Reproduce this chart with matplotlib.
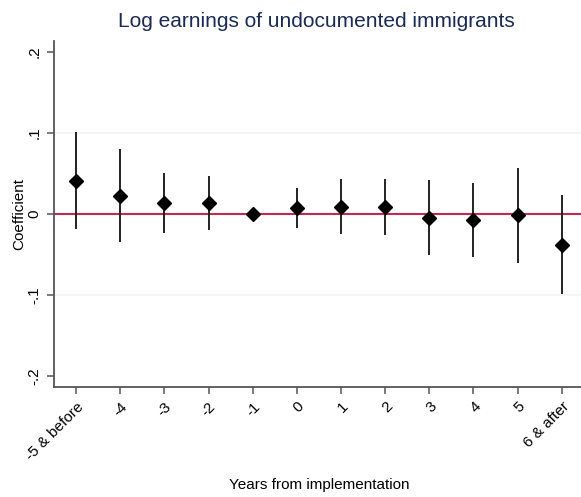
import matplotlib
matplotlib.use("Agg")
import matplotlib.pyplot as plt

plt.rcParams['font.family'] = ['Liberation Sans', 'DejaVu Sans']

# Event-study coefficients with 95% confidence bounds
years = [-5, -4, -3, -2, -1, 0, 1, 2, 3, 4, 5, 6]
tick_labels = ['-5 & before', '-4', '-3', '-2', '-1', '0', '1', '2', '3', '4', '5', '6 & after']
coef = [0.041, 0.0225, 0.0135, 0.0135, 0.0, 0.007, 0.009, 0.0086, -0.0045, -0.0078, -0.0016, -0.038]
ci_low = [-0.018, -0.035, -0.023, -0.020, 0.0, -0.0176, -0.025, -0.026, -0.051, -0.053, -0.060, -0.099]
ci_high = [0.101, 0.080, 0.050, 0.047, 0.0, 0.0316, 0.043, 0.043, 0.042, 0.038, 0.057, 0.023]
yticks = [-0.2, -0.1, 0, 0.1, 0.2]
ytick_labels = ['-.2', '-.1', '0', '.1', '.2']

fig = plt.figure(figsize=(5.81, 4.97), dpi=100)
ax = fig.add_axes([0.0929, 0.2213, 0.912, 0.696])

# light grid at inner ticks
for y in [-0.1, 0.1]:
    ax.axhline(y, color='#edf3f4', lw=1.2, zorder=0)
ax.axhline(0, color='#c5284e', lw=1.5, zorder=1)

ax.vlines(years, ci_low, ci_high, color='#222222', lw=1.4, zorder=2)
ax.plot(years, coef, linestyle='none', marker='D', ms=7.5, color='black', zorder=3)

ax.set_xlim(-5.5, 6.5)
ax.set_ylim(-0.213, 0.213)
ax.set_yticks(yticks)
ax.set_yticklabels(ytick_labels, rotation=90, va='center', fontsize=11)
ax.set_xticks(years)
ax.set_xticklabels(tick_labels, rotation=45, ha='right', rotation_mode='anchor', fontsize=11)

for s in ['top', 'right']:
    ax.spines[s].set_visible(False)
for s in ['left', 'bottom']:
    ax.spines[s].set_color('#555555')
    ax.spines[s].set_linewidth(1.3)
ax.tick_params(axis='both', direction='out', length=5, width=1.1, color='#555555', pad=4)

ax.set_ylabel('Coefficient', fontsize=11)
ax.yaxis.set_label_coords(-0.053, 0.5)
fig.text(0.55, 0.025, 'Years from implementation', ha='center', va='center', fontsize=11)
fig.text(0.545, 0.957, 'Log earnings of undocumented immigrants', ha='center', va='center',
         fontsize=15, color='#1a2a55')

fig.savefig('out.png', dpi=100)
